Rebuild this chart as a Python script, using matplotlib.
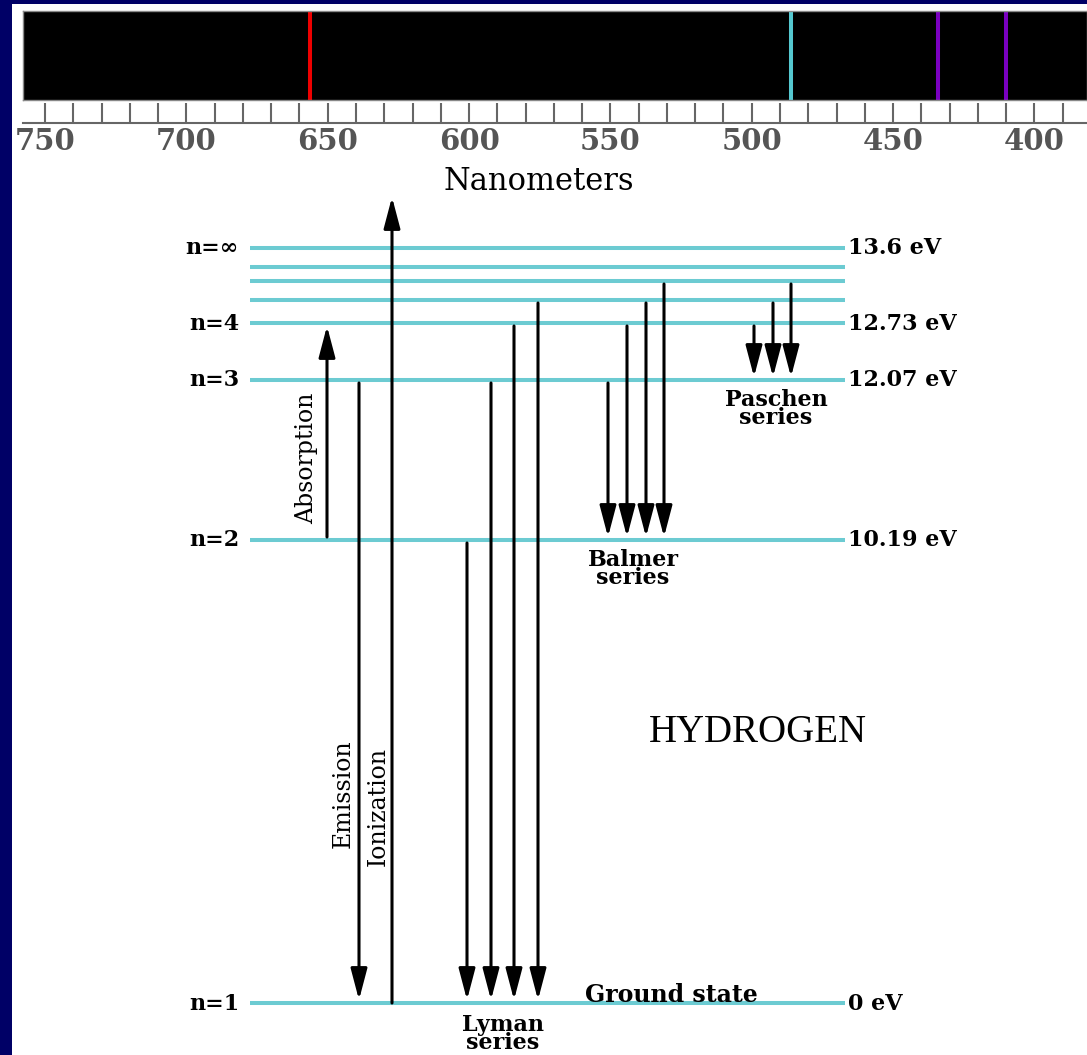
import matplotlib
matplotlib.use('Agg')
import matplotlib.pyplot as plt
from matplotlib.patches import FancyArrowPatch

# spectrum: hydrogen visible lines (nm)
line_nm = [656.3, 486.1, 434.0, 410.2]
line_col = ['#ee0000', '#55c8d0', '#7a00c0', '#7a00c0']
major_nm = [750, 700, 650, 600, 550, 500, 450, 400]
minor_nm = list(range(390, 751, 10))

# energy levels (schematic height in diagram units)
level_n = ['1', '2', '3', '4', '5', '6', '7', 'inf']
level_h = [52, 515, 675, 732, 755, 774, 788, 807]
left_lab = {'1': 'n=1', '2': 'n=2', '3': 'n=3', '4': 'n=4', 'inf': 'n=\u221e'}
right_lab = {'1': '0 eV', '2': '10.19 eV', '3': '12.07 eV', '4': '12.73 eV', 'inf': '13.6 eV'}
ion_top = 858

# transitions: x slot in diagram, upper level, lower level
lyman_x = [467, 491, 514, 538]
lyman_up = ['2', '3', '4', '5']
balmer_x = [608, 627, 646, 664]
balmer_up = ['3', '4', '5', '6']
paschen_x = [754, 773, 791]
paschen_up = ['4', '5', '6']

H = dict(zip(level_n, level_h))
navy = '#000066'
cyan = '#6ccbd2'
serif = ['DejaVu Serif']

fig = plt.figure(figsize=(10.87, 10.55), dpi=100, facecolor=navy)

ax = fig.add_axes([12/1087, 0, 1075/1087, 1051/1055])
ax.set_facecolor('white')
ax.set_xlim(12, 1087)
ax.set_ylim(0, 1051)
ax.set_xticks([])
ax.set_yticks([])
for s in ax.spines.values():
    s.set_visible(False)

ax.hlines(level_h, 250, 845, color=cyan, lw=2.9, zorder=1)
for n in left_lab:
    ax.text(239, H[n] + 2, left_lab[n], ha='right', va='center_baseline', fontsize=16,
            fontweight='bold', family=serif)
    ax.text(848, H[n] + 2, right_lab[n], ha='left', va='center_baseline', fontsize=16,
            fontweight='bold', family=serif)


def arrow(x, y0, y1):
    ax.add_patch(FancyArrowPatch((x, y0), (x, y1),
                                 arrowstyle='-|>,head_length=19,head_width=5',
                                 mutation_scale=1, lw=2.2, color='k',
                                 shrinkA=0, shrinkB=0, zorder=3))


gap = 3
arrow(327, H['2'] + gap, H['4'] - 3)
arrow(359, H['3'] - gap, H['1'] + gap)
arrow(392, H['1'], ion_top)
for x, n in zip(lyman_x, lyman_up):
    arrow(x, H[n] - gap, H['1'] + gap)
for x, n in zip(balmer_x, balmer_up):
    arrow(x, H[n] - gap, H['2'] + gap)
for x, n in zip(paschen_x, paschen_up):
    arrow(x, H[n] - gap, H['3'] + gap)

ax.text(307, 597, 'Absorption', rotation=90, ha='center', va='center',
        fontsize=17, family=serif)
ax.text(343, 261, 'Emission', rotation=90, ha='center', va='center',
        fontsize=17, family=serif)
ax.text(378, 248, 'Ionization', rotation=90, ha='center', va='center',
        fontsize=17, family=serif)

ax.text(503, 21, 'Lyman\nseries', ha='center', va='center', fontsize=16,
        fontweight='bold', family=serif, linespacing=0.78)
ax.text(633, 486, 'Balmer\nseries', ha='center', va='center', fontsize=16,
        fontweight='bold', family=serif, linespacing=0.78)
ax.text(776, 646, 'Paschen\nseries', ha='center', va='center', fontsize=16,
        fontweight='bold', family=serif, linespacing=0.78)
ax.text(671, 62, 'Ground state', ha='center', va='center_baseline', fontsize=17,
        fontweight='bold', family=serif)
ax.text(758, 327, 'HYDROGEN', ha='center', va='center_baseline', fontsize=28,
        family=['Liberation Serif', 'DejaVu Serif'])

# spectrum bar
ax_sp = fig.add_axes([23/1087, 1-100/1055, 1064/1087, 89/1055])
ax_sp.set_facecolor('black')
ax_sp.set_xlim(757.8, 381.4)
ax_sp.set_ylim(0, 1)
ax_sp.set_xticks([])
ax_sp.set_yticks([])
for s in ax_sp.spines.values():
    s.set_color('#888888')
    s.set_linewidth(1)
for nm, c in zip(line_nm, line_col):
    ax_sp.axvline(nm, color=c, lw=2.9)

# nanometer scale
ax_sc = fig.add_axes([23/1087, 1-123/1055, 1064/1087, 23/1055])
ax_sc.patch.set_visible(False)
ax_sc.set_xlim(757.8, 381.4)
ax_sc.set_yticks([])
for k in ['top', 'left', 'right']:
    ax_sc.spines[k].set_visible(False)
ax_sc.spines['bottom'].set_color('#666666')
ax_sc.spines['bottom'].set_linewidth(1.5)
ax_sc.set_xticks(major_nm)
ax_sc.set_xticks([m for m in minor_nm if m not in major_nm], minor=True)
ax_sc.set_xticklabels([str(m) for m in major_nm], family=serif, fontweight='bold')
ax_sc.tick_params(which='both', direction='in', length=14.4, width=1.5,
                  color='#666666', labelsize=21, labelcolor='#555555', pad=3)

fig.text(539/1087, 1-178/1055, 'Nanometers', ha='center', va='center_baseline',
         fontsize=22, family=serif)

fig.savefig('out.png', dpi=100, facecolor=navy)
